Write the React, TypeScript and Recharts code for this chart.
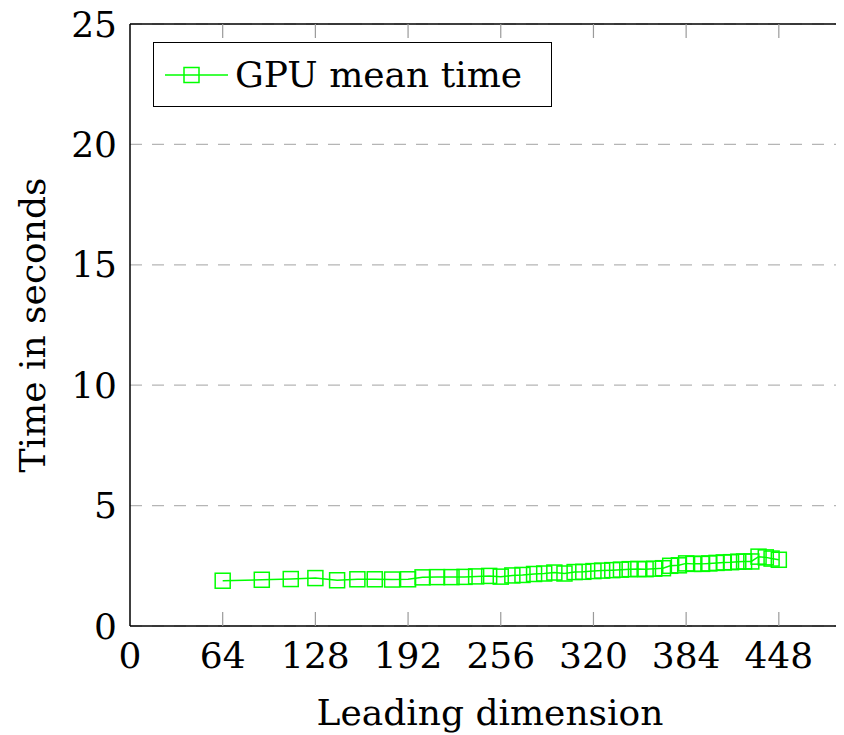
import {
  CartesianGrid,
  Label,
  Line,
  LineChart,
  ReferenceLine,
  XAxis,
  YAxis,
} from "recharts";

// leading dimension of each run
const leadingDims = [
  64, 91, 111, 128, 143, 157, 169, 181, 192, 202, 212, 222, 231, 239, 248, 256,
  264, 271, 279, 286, 293, 300, 307, 313, 320, 326, 333, 339, 345, 351, 356,
  362, 368, 373, 379, 384, 389, 395, 400, 405, 410, 415, 420, 424, 429, 434,
  439, 443, 448,
];

// GPU mean time in seconds
const gpuMeanTime = [
  1.88, 1.92, 1.95, 1.99, 1.9, 1.94, 1.94, 1.93, 1.94, 2.02, 2.03, 2.03, 2.04,
  2.06, 2.08, 2.05, 2.1, 2.12, 2.16, 2.18, 2.22, 2.18, 2.24, 2.25, 2.28, 2.3,
  2.32, 2.34, 2.36, 2.37, 2.36, 2.38, 2.4, 2.5, 2.52, 2.6, 2.58, 2.58, 2.6,
  2.62, 2.64, 2.65, 2.67, 2.68, 2.68, 2.88, 2.85, 2.8, 2.75,
];

const xTicks = [0, 64, 128, 192, 256, 320, 384, 448];
const yTicks = [0, 5, 10, 15, 20, 25];

const data = leadingDims.map((d, i) => ({ dim: d, gpu: gpuMeanTime[i] }));

const FONT = "'DejaVu Serif', serif";
const GREEN = "#00ff00";
const TICK_GRAY = "#9a9a9a";
const PLOT_H = 602; // height of the plotting area, for the top tick marks

function SquareDot(props: any) {
  const { cx, cy } = props;
  if (cx == null || cy == null) return null;
  return (
    <rect
      x={cx - 7.5}
      y={cy - 7.5}
      width={15}
      height={15}
      fill="none"
      stroke={GREEN}
      strokeWidth={1.5}
    />
  );
}

function BottomTick(props: any) {
  const { x, y, payload } = props;
  return (
    <g>
      {payload.value !== 0 && (
        <>
          <line x1={x} x2={x} y1={y} y2={y - 14} stroke={TICK_GRAY} strokeWidth={1.2} />
          <line
            x1={x}
            x2={x}
            y1={y - PLOT_H}
            y2={y - PLOT_H + 14}
            stroke={TICK_GRAY}
            strokeWidth={1.2}
          />
        </>
      )}
      <text
        x={x}
        y={y + 29}
        textAnchor="middle"
        dominantBaseline="central"
        fontFamily={FONT}
        fontSize={36}
        fill="#000"
      >
        {payload.value}
      </text>
    </g>
  );
}

function LeftTick(props: any) {
  const { x, y, payload } = props;
  return (
    <text
      x={x}
      y={y}
      textAnchor="end"
      dominantBaseline="central"
      fontFamily={FONT}
      fontSize={36}
      fill="#000"
    >
      {payload.value}
    </text>
  );
}

export default function App() {
  return (
    <div style={{ position: "relative", width: 836, height: 735, marginTop: -8 }}>
      <LineChart
        width={836}
        height={735}
        data={data}
        margin={{ top: 24, right: 0, bottom: 0, left: 0 }}
      >
        <CartesianGrid
          vertical={false}
          horizontal
          stroke="#b5b5b5"
          strokeDasharray="12 10"
          strokeWidth={1.2}
        />
        <XAxis
          dataKey="dim"
          type="number"
          domain={[0, 493]}
          ticks={xTicks}
          height={109}
          tickSize={0}
          tickMargin={0}
          tickLine={false}
          tick={<BottomTick />}
          axisLine={{ stroke: "#000", strokeWidth: 1.5 }}
          interval={0}
        >
          <Label
            content={() => (
              <text
                x={482}
                y={712}
                textAnchor="middle"
                dominantBaseline="central"
                fontFamily={FONT}
                fontSize={36}
                fill="#000"
              >
                Leading dimension
              </text>
            )}
          />
        </XAxis>
        <YAxis
          type="number"
          domain={[0, 25]}
          ticks={yTicks}
          width={122}
          tickSize={0}
          tickMargin={13}
          tickLine={false}
          tick={<LeftTick />}
          axisLine={{ stroke: "#000", strokeWidth: 1.5 }}
          interval={0}
        >
          <Label
            content={() => (
              <text
                transform="translate(24,325) rotate(-90)"
                textAnchor="middle"
                dominantBaseline="central"
                fontFamily={FONT}
                fontSize={36}
                fill="#000"
              >
                Time in seconds
              </text>
            )}
          />
        </YAxis>
        <ReferenceLine y={25} stroke="#000" strokeWidth={1.5} />
        <Line
          dataKey="gpu"
          stroke={GREEN}
          strokeWidth={1.5}
          dot={<SquareDot />}
          activeDot={false}
          isAnimationActive={false}
        />
      </LineChart>
      {/* legend box */}
      <div
        style={{
          position: "absolute",
          left: 145,
          top: 42,
          width: 397,
          height: 63,
          border: "1.5px solid #000",
          background: "#fff",
          display: "flex",
          alignItems: "center",
          fontFamily: FONT,
          fontSize: 36,
        }}
      >
        <svg width={84} height={30} style={{ marginLeft: 11 }}>
          <line x1={0} x2={63} y1={15} y2={15} stroke={GREEN} strokeWidth={1.5} />
          <rect x={19} y={7.5} width={15} height={15} fill="none" stroke={GREEN} strokeWidth={1.5} />
        </svg>
        <span style={{ marginLeft: -14 }}>GPU mean time</span>
      </div>
    </div>
  );
}
